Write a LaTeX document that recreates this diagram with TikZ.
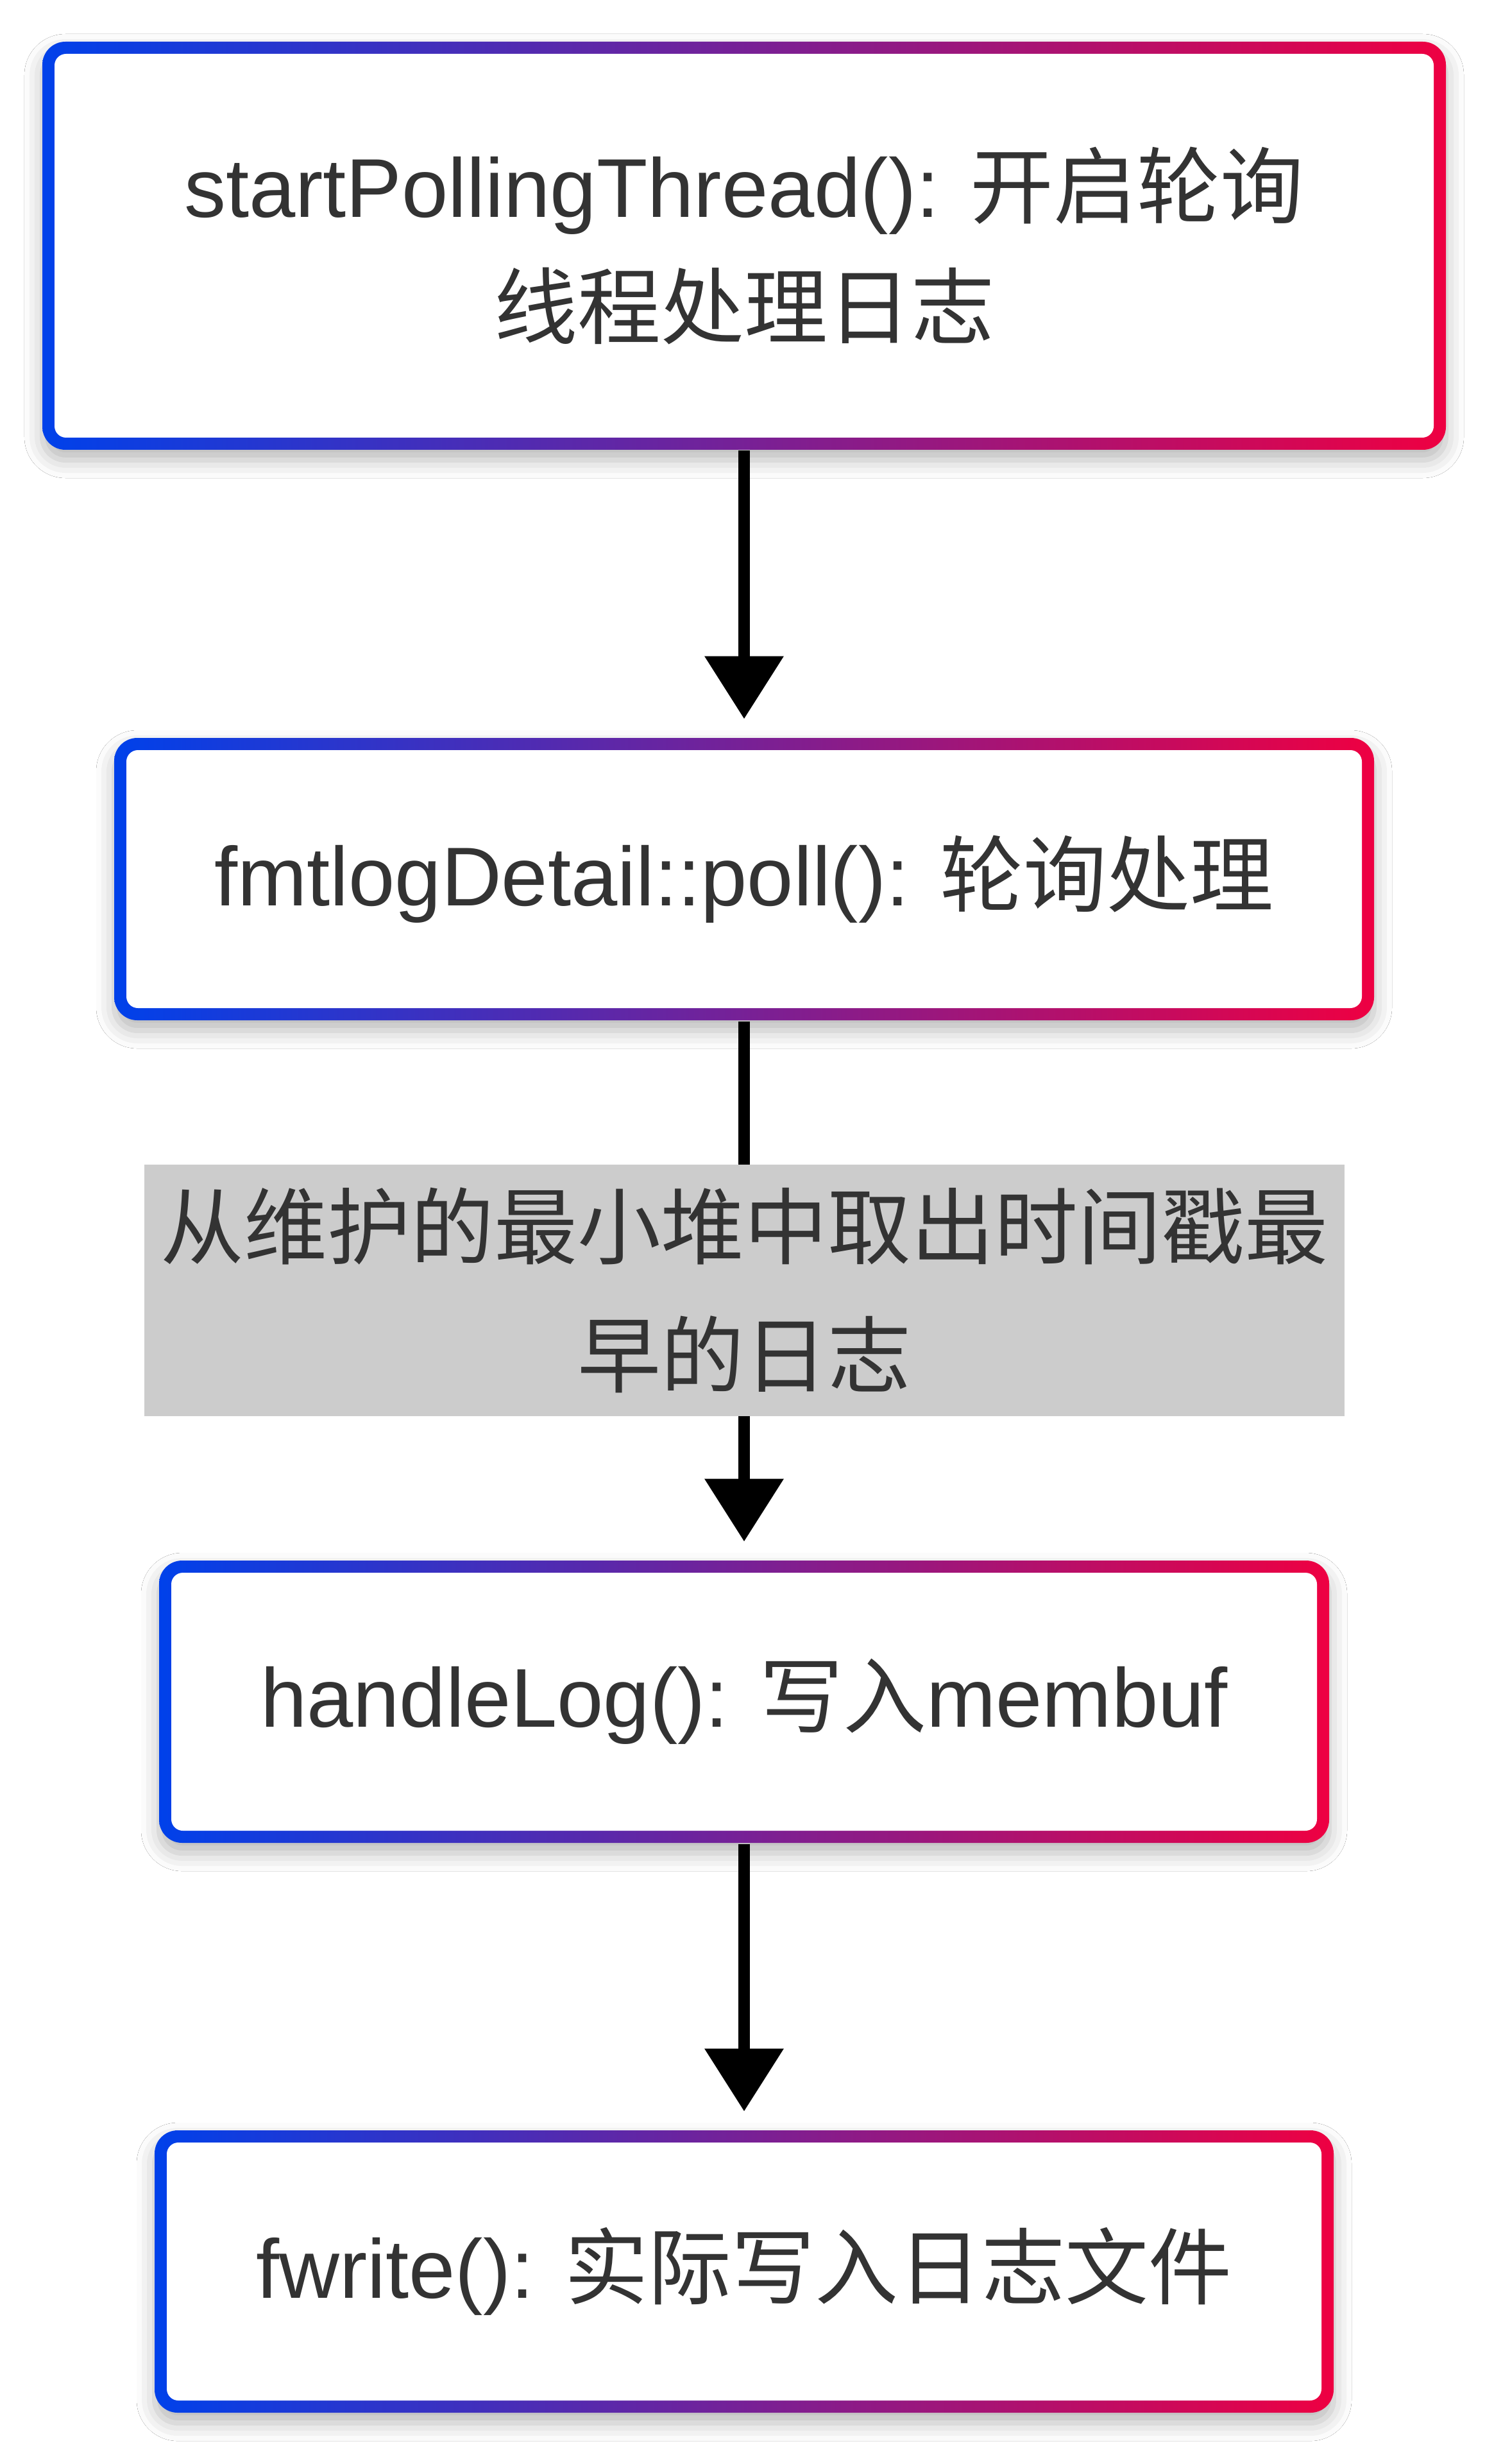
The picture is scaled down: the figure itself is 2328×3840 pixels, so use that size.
\documentclass[tikz,border=0pt]{standalone}
\usepackage{fontspec}
\setmainfont{Liberation Sans}
\newfontfamily\cjk{Noto Sans CJK SC}
\newcommand{\hanzi}[1]{{\cjk #1}}
\usetikzlibrary{arrows.meta,shadows.blur}

\definecolor{boxblue}{RGB}{0,65,234}
\definecolor{boxred}{RGB}{238,0,66}
\definecolor{textgrey}{RGB}{51,51,51}
\definecolor{notegrey}{RGB}{204,204,204}

\tikzset{every picture/.style={line width=0.75pt}}
\tikzset{
	rimbox/.style={draw=none, inner sep=0pt, rounded corners=9pt, left color=boxblue, right color=boxred,
		blur shadow={shadow xshift=0pt, shadow yshift=-4pt, shadow blur radius=7pt, shadow opacity=28}},
	facebox/.style={fill=white, inner sep=0pt, rounded corners=4.5pt, text=textgrey, align=center,
		font=\fontsize{32.5pt}{47pt}\selectfont},
	notebox/.style={fill=notegrey, inner sep=0pt, text=textgrey, align=center,
		minimum width=467.75pt, minimum height=98pt, font=\fontsize{32.5pt}{50pt}\selectfont},
	flowarrow/.style={line width=4.5pt, -{Triangle[length=24.5pt,width=29.75pt]}, shorten >=7pt}
}

\begin{document}
\begin{tikzpicture}[x=0.25pt,y=0.25pt,yscale=-1,xscale=1]
	\useasboundingbox (0,0) rectangle (2328,3840);
	\fill[white] (0,0) rectangle (2328,3840);

	% Box: start polling thread
	\node[rimbox, minimum width=547pt, minimum height=159pt] (start) at (1160,383) {};
	\node[facebox, minimum width=537.5pt, minimum height=149.5pt] (startface) at (start)
		{startPollingThread(): \hanzi{开启轮询}\\\hanzi{线程处理日志}};
	% Box: poll
	\node[rimbox, minimum width=491pt, minimum height=110pt] (poll) at (1160,1370) {};
	\node[facebox, minimum width=481.5pt, minimum height=100.5pt] (pollface) at (poll)
		{fmtlogDetail::poll(): \hanzi{轮询处理}};
	% Box: handle log
	\node[rimbox, minimum width=456pt, minimum height=110pt] (handle) at (1160,2652) {};
	\node[facebox, minimum width=446.5pt, minimum height=100.5pt] (handleface) at (handle)
		{handleLog(): \hanzi{写入}membuf};
	% Box: fwrite
	\node[rimbox, minimum width=459.5pt, minimum height=110pt] (write) at (1160,3540) {};
	\node[facebox, minimum width=450pt, minimum height=100.5pt] (writeface) at (write)
		{fwrite(): \hanzi{实际写入日志文件}};

	% Arrows
	\draw[flowarrow] (start) -- (poll);
	\draw[flowarrow] (poll) -- node[notebox] (heapnote) {\hanzi{从维护的最小堆中取出时间戳最}\\\hanzi{早的日志}} (handle);
	\draw[flowarrow] (handle) -- (write);

\end{tikzpicture}
\end{document}
